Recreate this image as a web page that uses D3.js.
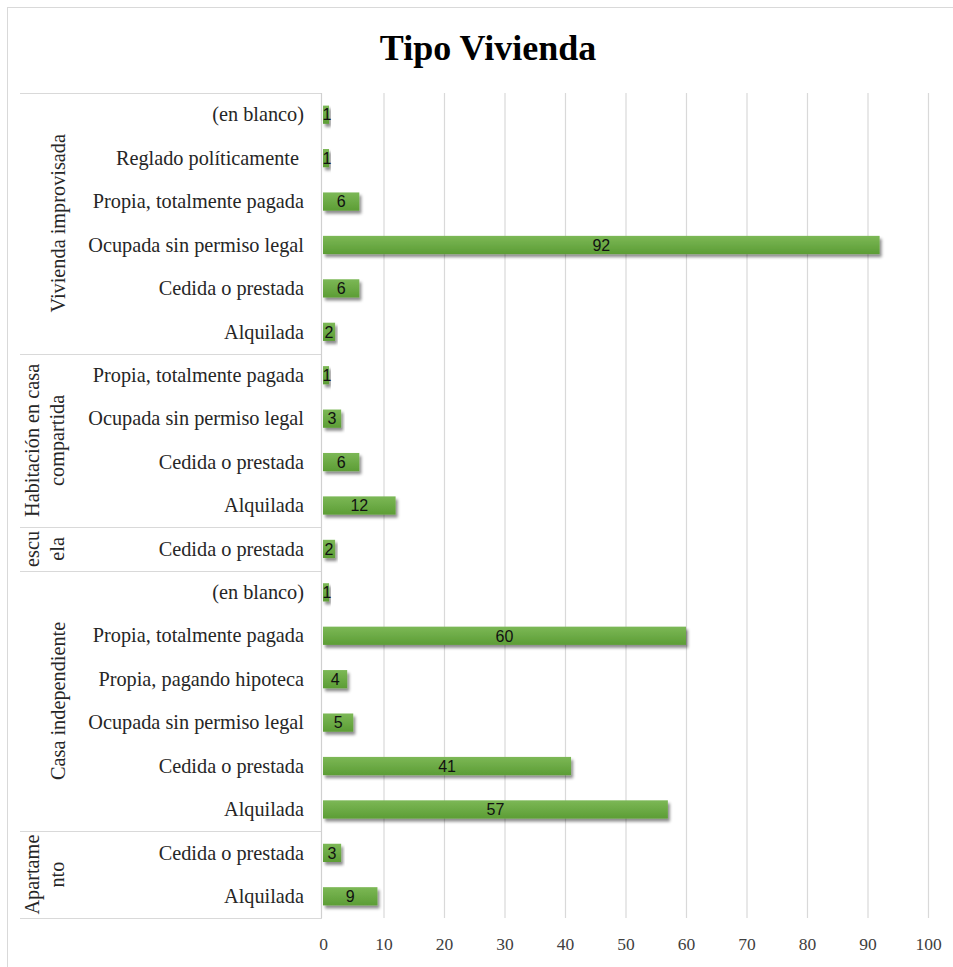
<!DOCTYPE html>
<html>
<head>
<meta charset="utf-8">
<script src="https://cdn.jsdelivr.net/npm/d3@7"></script>
<style>
  html, body { margin: 0; padding: 0; background: #fff; }
  svg text { white-space: pre; }
</style>
</head>
<body>
<div id="chart"></div>
<script>
// datos (de arriba hacia abajo)
const groups = ['Vivienda improvisada', 'Habitación en casa compartida', 'escuela', 'Casa independiente', 'Apartamento'];
const groupLines = [['Vivienda improvisada'], ['Habitación en casa', 'compartida'], ['escu', 'ela'], ['Casa independiente'], ['Apartame', 'nto']];
const groupSizes = [6, 4, 1, 6, 2];
const categories = [
  '(en blanco)', 'Reglado políticamente ', 'Propia, totalmente pagada', 'Ocupada sin permiso legal', 'Cedida o prestada', 'Alquilada',
  'Propia, totalmente pagada', 'Ocupada sin permiso legal', 'Cedida o prestada', 'Alquilada',
  'Cedida o prestada',
  '(en blanco)', 'Propia, totalmente pagada', 'Propia, pagando hipoteca', 'Ocupada sin permiso legal', 'Cedida o prestada', 'Alquilada',
  'Cedida o prestada', 'Alquilada'
];
const values = [1, 1, 6, 92, 6, 2, 1, 3, 6, 12, 2, 1, 60, 4, 5, 41, 57, 3, 9];
const xTicks = [0, 10, 20, 30, 40, 50, 60, 70, 80, 90, 100];

const width = 953, height = 967;
const plot = { left: 323, right: 928, top: 93, bottom: 918 };
const serif = 'Liberation Serif, Times New Roman, serif';

const svg = d3.select('#chart').append('svg')
  .attr('width', width).attr('height', height);

// borde del gráfico
svg.append('rect')
  .attr('x', 7.5).attr('y', 7.5).attr('width', 980).attr('height', 990)
  .attr('fill', '#fff').attr('stroke', '#d9d9d9');

const defs = svg.append('defs');
const grad = defs.append('linearGradient').attr('id', 'barGrad')
  .attr('x1', 0).attr('y1', 0).attr('x2', 0).attr('y2', 1);
grad.append('stop').attr('offset', '0%').attr('stop-color', '#7cb856');
grad.append('stop').attr('offset', '100%').attr('stop-color', '#5c9d35');
const shadow = defs.append('filter').attr('id', 'shadow')
  .attr('x', '-20%').attr('y', '-50%').attr('width', '140%').attr('height', '220%');
shadow.append('feDropShadow').attr('dx', 2).attr('dy', 3).attr('stdDeviation', 1.8)
  .attr('flood-color', '#000').attr('flood-opacity', 0.45);

const x = d3.scaleLinear().domain([0, 100]).range([plot.left, plot.right]);
const y = d3.scaleBand().domain(d3.range(categories.length))
  .range([plot.top, plot.bottom]).paddingInner(0.58).paddingOuter(0.29);
const halfGap = (y.step() - y.bandwidth()) / 2;

// título
svg.append('text')
  .attr('x', 488).attr('y', 60)
  .attr('text-anchor', 'middle')
  .attr('font-family', serif)
  .attr('font-weight', 'bold').attr('font-size', 36)
  .text('Tipo Vivienda');

// líneas de la cuadrícula
svg.append('g')
  .attr('transform', `translate(0,${plot.bottom})`)
  .call(d3.axisBottom(x).tickValues(xTicks.slice(1)).tickSize(-(plot.bottom - plot.top)).tickFormat(''))
  .call(g => g.select('.domain').remove())
  .call(g => g.selectAll('line').attr('stroke', '#d9d9d9').attr('stroke-width', 1.2));

// etiquetas del eje x
svg.append('g')
  .attr('transform', `translate(0,${plot.bottom})`)
  .call(d3.axisBottom(x).tickValues(xTicks).tickSize(0).tickPadding(20))
  .call(g => g.select('.domain').remove())
  .call(g => g.selectAll('text')
    .attr('font-family', serif)
    .attr('font-size', 17.5).attr('fill', '#404040'));

// separadores de grupos
let start = 0;
const bounds = [plot.top];
groupSizes.forEach(n => { start += n; bounds.push(start < categories.length ? y(start) - halfGap : plot.bottom); });
svg.append('g').selectAll('line').data(bounds).join('line')
  .attr('x1', 20).attr('x2', plot.left - 1)
  .attr('y1', d => Math.round(d) + 0.5).attr('y2', d => Math.round(d) + 0.5)
  .attr('stroke', '#d9d9d9').attr('stroke-width', 1.2);
svg.append('line')
  .attr('x1', plot.left - 1.5).attr('x2', plot.left - 1.5)
  .attr('y1', plot.top).attr('y2', plot.bottom)
  .attr('stroke', '#d0d0d0').attr('stroke-width', 1.2);

// etiquetas de categoría
svg.append('g').selectAll('text').data(categories).join('text')
  .attr('x', 304)
  .attr('y', (d, i) => y(i) + y.bandwidth() / 2)
  .attr('dy', '0.33em')
  .attr('text-anchor', 'end')
  .attr('font-family', serif)
  .attr('font-size', 20.3).attr('fill', '#262626')
  .text(d => d);

// etiquetas de grupo (rotadas)
groups.forEach((g, gi) => {
  const cy = (bounds[gi] + bounds[gi + 1]) / 2;
  const lines = groupLines[gi];
  const cx = lines.length === 1 ? 58 : 45;
  const t = svg.append('text')
    .attr('transform', `translate(${cx},${cy}) rotate(-90)`)
    .attr('text-anchor', 'middle')
    .attr('font-family', serif)
    .attr('font-size', 20.3).attr('fill', '#262626');
  lines.forEach((ln, li) => {
    t.append('tspan').attr('x', 0)
      .attr('y', (li - (lines.length - 1) / 2) * 25)
      .attr('dy', '0.33em').text(ln);
  });
});

// barras
svg.append('g').selectAll('rect').data(values).join('rect')
  .attr('x', x(0))
  .attr('y', (d, i) => y(i))
  .attr('width', d => x(d) - x(0))
  .attr('height', y.bandwidth())
  .attr('fill', 'url(#barGrad)')
  .attr('filter', 'url(#shadow)');

// etiquetas de datos
svg.append('g').selectAll('text').data(values).join('text')
  .attr('x', d => (x(0) + x(d)) / 2 + (d < 2 ? 1 : 0))
  .attr('y', (d, i) => y(i) + y.bandwidth() / 2)
  .attr('dy', '0.36em')
  .attr('text-anchor', 'middle')
  .attr('font-family', 'Liberation Sans Narrow, Liberation Sans, Arial, sans-serif')
  .attr('font-size', 16).attr('fill', '#111')
  .text(d => d);
</script>
</body>
</html>
